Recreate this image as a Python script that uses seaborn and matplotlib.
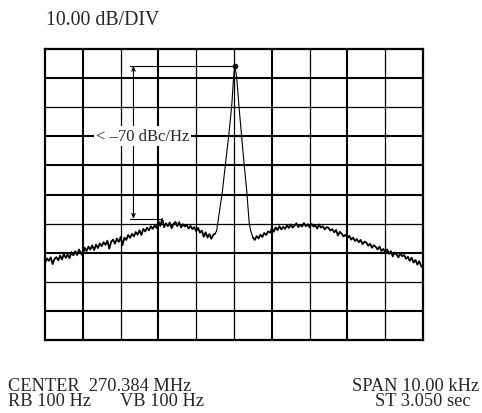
import numpy as np
import pandas as pd
import matplotlib
matplotlib.use("Agg")
import matplotlib.pyplot as plt
import seaborn as sns

# spectrum trace: kHz from centre, level in dB (10 dB/div)
left_freq = np.linspace(-5.0, -0.5, 91)
left_db = [
    -73.5, -72.0, -72.8, -71.6, -73.9, -72.2, -71.5, -72.6, -71.0, -72.3,
    -70.4, -71.8, -70.6, -71.9, -69.8, -70.9, -69.5, -70.8, -68.9, -70.2,
    -71.0, -68.3, -69.4, -67.9, -68.9, -67.5, -69.1, -67.2, -68.4, -66.8,
    -67.8, -66.4, -67.3, -65.9, -68.6, -66.2, -65.5, -66.9, -65.1, -66.3,
    -64.6, -67.4, -64.8, -65.6, -63.9, -64.9, -63.5, -64.4, -62.9, -63.8,
    -62.3, -63.9, -61.8, -62.7, -61.4, -62.3, -60.9, -61.8, -60.6, -61.5,
    -59.2, -60.8, -58.4, -61.2, -59.9, -60.9, -59.6, -61.6, -60.1, -59.4,
    -60.9, -59.5, -61.3, -60.2, -61.0, -60.5, -61.7, -60.8, -61.9, -61.2,
    -62.6, -61.5, -63.1, -62.4, -64.5, -63.0, -64.8, -63.6, -65.2, -63.9,
    -63.4,
]
peak_freq = [-0.5, -0.46, -0.31, -0.23, -0.14, -0.06, -0.01, 0.02, 0.07, 0.13, 0.20, 0.27, 0.34, 0.40, 0.44, 0.5]
peak_db = [-63.4, -62.5, -49.2, -39.9, -29.8, -19.5, -9.5, -5.7, -9.5, -19.5, -29.8, -39.9, -49.2, -59.6, -62.4, -64.8]
right_freq = np.linspace(0.5, 5.0, 91)
right_db = [
    -64.8, -65.6, -64.3, -65.1, -63.8, -64.6, -63.2, -63.9, -62.7, -63.1,
    -61.6, -62.8, -61.3, -62.2, -60.9, -62.0, -61.1, -61.8, -60.6, -61.5,
    -60.3, -61.4, -60.7, -59.9, -61.2, -60.4, -61.0, -59.8, -60.9, -60.2,
    -61.3, -60.1, -61.0, -60.6, -61.7, -60.3, -61.4, -60.9, -62.0, -61.2,
    -61.5, -62.4, -61.9, -63.0, -62.2, -64.1, -62.8, -63.5, -64.4, -63.8,
    -64.9, -64.2, -65.5, -64.8, -66.0, -65.3, -66.4, -65.6, -67.1, -66.2,
    -66.5, -67.6, -66.9, -68.3, -67.4, -68.0, -68.9, -67.9, -69.4, -68.7,
    -69.8, -68.9, -70.4, -69.5, -71.3, -69.9, -70.6, -71.6, -70.2, -71.2,
    -70.8, -72.1, -71.4, -72.8, -71.7, -73.4, -72.5, -74.1, -72.9, -74.6,
    -75.2,
]

# grid line weights as printed (thick / thin), inner divisions only
x_grid_w = [1.5, 0.9, 1.5, 0.9, 0.9, 1.5, 0.9, 1.5, 0.9]
y_grid_w = [1.5, 0.9, 1.5, 0.9, 1.5, 1.5, 1.5, 0.9, 1.5]

noise_l = pd.DataFrame({"freq": left_freq, "level": left_db})
noise_r = pd.DataFrame({"freq": right_freq, "level": right_db})
carrier = pd.DataFrame({"freq": peak_freq, "level": peak_db})

sns.set_style("white")
plt.rcParams["font.family"] = ["Liberation Serif", "DejaVu Serif"]

fig = plt.figure(figsize=(4.82, 4.14), dpi=100)
ax = fig.add_axes([0.0934, 0.1763, 0.7842, 0.7029])

sns.lineplot(data=carrier, x="freq", y="level", color="black", linewidth=0.8,
             estimator=None, ax=ax, zorder=3)
for part in (noise_l, noise_r):
    sns.lineplot(data=part, x="freq", y="level", color="black", linewidth=1.3,
                 estimator=None, ax=ax, zorder=3)

top = max(peak_db)
top_f = peak_freq[int(np.argmax(peak_db))]
floor = max(left_db)
ax.plot([top_f], [top], "o", color="black", ms=3, zorder=4)

ax.set_xlim(-5, 5)
ax.set_ylim(-100, 0)
ax.set_xticks(np.arange(-4, 5))
ax.set_yticks(np.arange(-90, 0, 10))
ax.tick_params(length=0, labelbottom=False, labelleft=False)
ax.set_xlabel("")
ax.set_ylabel("")
ax.grid(True, color="black")
for line, w in zip(ax.xaxis.get_gridlines(), x_grid_w):
    line.set_linewidth(w)
for line, w in zip(ax.yaxis.get_gridlines(), y_grid_w):
    line.set_linewidth(w)
for sp in ax.spines.values():
    sp.set_color("black")
    sp.set_linewidth(1.6)

# carrier-to-noise marker
ax.plot([-2.75, top_f], [top, top], color="black", lw=0.8, zorder=4)
ax.plot([-2.75, -1.96], [floor, floor], color="black", lw=0.8, zorder=4)
ax.annotate("", xy=(-2.66, top), xytext=(-2.66, floor),
            arrowprops=dict(arrowstyle="<->,head_length=0.3,head_width=0.12",
                            color="black", lw=0.8, shrinkA=0, shrinkB=0),
            zorder=4)
ax.text(-2.42, -29.8, "< \u201370 dBc/Hz", ha="center", va="center", fontsize=12,
        bbox=dict(facecolor="white", edgecolor="none", pad=1.5), zorder=5)

fig.text(0.0955, 1 - 25 / 414, "10.00 dB/DIV", fontsize=14.2, va="baseline")
fig.text(0.0172, 1 - 391 / 414, "CENTER  270.384 MHz", fontsize=13.2, va="baseline")
fig.text(0.0172, 1 - 406.5 / 414, "RB 100 Hz", fontsize=13.2, va="baseline")
fig.text(0.250, 1 - 406.5 / 414, "VB 100 Hz", fontsize=13.2, va="baseline")
fig.text(0.731, 1 - 391 / 414, "SPAN 10.00 kHz", fontsize=13.2, va="baseline")
fig.text(0.778, 1 - 406.5 / 414, "ST 3.050 sec", fontsize=13.2, va="baseline")

fig.savefig("out.png", dpi=100)
